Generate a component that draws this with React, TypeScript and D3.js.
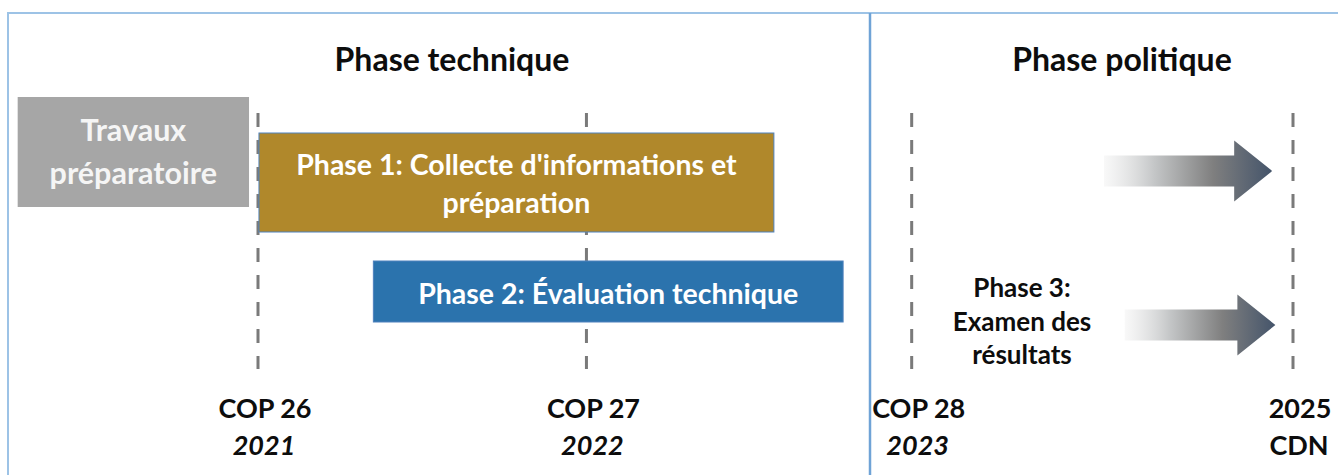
import React from "react";
import * as d3 from "d3";

// ---- Data ----
const milestoneLabels = ["COP 26", "COP 27", "COP 28", "2025"];
const milestoneSubLabels = ["2021", "2022", "2023", "CDN"];
const milestoneSubItalic = [true, true, true, false];
const milestoneTimes = [2021.85, 2022.875, 2023.89, 2025.08];

const phaseTitles = ["Phase technique", "Phase politique"];

const boxNames = ["prep", "phase1", "phase2"];
const boxStarts = [2021.1, 2021.853, 2022.21];
const boxEnds = [2021.822, 2023.46, 2023.676];
const boxLines = [
  ["Travaux", "préparatoire"],
  ["Phase 1: Collecte d'informations et", "préparation"],
  ["Phase 2: Évaluation technique"],
];
const boxColors = ["#a6a6a6", "#b0882b", "#2b73ad"];

const arrowStarts = [2024.49, 2024.555];
const arrowEnds = [2025.015, 2025.025];

const phase3Lines = ["Phase 3:", "Examen des", "résultats"];

// ---- Layout ----
const W = 1338;
const H = 475;
const FONT = "Lato, 'Open Sans', sans-serif";

const x = d3.scaleLinear().domain([2021.85, 2025.08]).range([258, 1293]);

const boxTop = [97, 133, 261];
const boxBottom = [207, 232, 322];
const boxFont = [30.5, 28.5, 28.5];
const boxBaselines = [[141, 184], [175, 213], [304]];

const arrowCy = [171, 325];
const shaftHalf = 15.5;
const headHalf = 30.5;
const headLen = 38;

export default function App() {
  const arrowPath = (i: number) => {
    const x0 = x(arrowStarts[i]);
    const x1 = x(arrowEnds[i]);
    const cy = arrowCy[i];
    const p = d3.path();
    p.moveTo(x0, cy - shaftHalf);
    p.lineTo(x1 - headLen, cy - shaftHalf);
    p.lineTo(x1 - headLen, cy - headHalf);
    p.lineTo(x1, cy);
    p.lineTo(x1 - headLen, cy + headHalf);
    p.lineTo(x1 - headLen, cy + shaftHalf);
    p.lineTo(x0, cy + shaftHalf);
    p.closePath();
    return p.toString();
  };

  const divider = 870;

  return (
    <svg
      width={W}
      height={H}
      viewBox={`0 0 ${W} ${H}`}
      style={{ position: "absolute", left: 0, top: 0, background: "#fff" }}
      fontFamily={FONT}
    >
      <defs>
        {arrowStarts.map((_, i) => (
          <linearGradient
            key={i}
            id={`ag${i}`}
            gradientUnits="userSpaceOnUse"
            x1={x(arrowStarts[i])}
            x2={x(arrowEnds[i])}
            y1={0}
            y2={0}
          >
            <stop offset="0" stopColor="#f4f4f4" stopOpacity={0.6} />
            <stop offset="0.3" stopColor="#c4c6c7" />
            <stop offset="0.65" stopColor="#7f7f7f" />
            <stop offset="1" stopColor="#44546a" />
          </linearGradient>
        ))}
      </defs>

      {/* frame */}
      <path d={`M8,${H} V13 H${W}`} fill="none" stroke="#9dc3e6" strokeWidth={2} />
      <line x1={divider} x2={divider} y1={13} y2={H} stroke="#6fa3d6" strokeWidth={2.5} />

      {/* phase titles */}
      <text x={452} y={71} textAnchor="middle" fontSize={32} fontWeight={700} fill="#0d0d0d">
        {phaseTitles[0]}
      </text>
      <text x={1122} y={71} textAnchor="middle" fontSize={32} fontWeight={700} fill="#0d0d0d">
        {phaseTitles[1]}
      </text>

      {/* dashed milestone lines */}
      {milestoneTimes.map((t, i) => (
        <line
          key={i}
          x1={x(t)}
          x2={x(t)}
          y1={113}
          y2={369}
          stroke="#7a7a7a"
          strokeWidth={3}
          strokeDasharray="14 13"
        />
      ))}

      {/* boxes */}
      {boxNames.map((n, i) => {
        const bx0 = x(boxStarts[i]);
        const bx1 = x(boxEnds[i]);
        const cx = (bx0 + bx1) / 2;
        return (
          <g key={n}>
            <rect
              x={bx0}
              y={boxTop[i]}
              width={bx1 - bx0}
              height={boxBottom[i] - boxTop[i]}
              fill={boxColors[i]}
              stroke={i === 0 ? "none" : "#4f81bd"}
              strokeWidth={1}
            />
            {boxLines[i].map((ln, j) => (
              <text
                key={j}
                x={cx}
                y={boxBaselines[i][j]}
                textAnchor="middle"
                fontSize={boxFont[i]}
                fontWeight={700}
                fill={i === 0 ? "#f5f5f5" : "#ffffff"}
              >
                {ln}
              </text>
            ))}
          </g>
        );
      })}

      {/* arrows */}
      {arrowStarts.map((_, i) => (
        <path key={i} d={arrowPath(i)} fill={`url(#ag${i})`} />
      ))}

      {/* phase 3 text */}
      {phase3Lines.map((ln, j) => (
        <text
          key={j}
          x={1022}
          y={297 + j * 33.5}
          textAnchor="middle"
          fontSize={26}
          fontWeight={700}
          fill="#0d0d0d"
        >
          {ln}
        </text>
      ))}

      {/* milestone labels */}
      {milestoneTimes.map((t, i) => (
        <g key={i}>
          <text
            x={x(t) + 7}
            y={418}
            textAnchor="middle"
            fontSize={27}
            fontWeight={700}
            fill="#0d0d0d"
          >
            {milestoneLabels[i]}
          </text>
          <text
            x={x(t) + 6}
            y={455}
            textAnchor="middle"
            fontSize={27}
            fontWeight={700}
            fontStyle={milestoneSubItalic[i] ? "italic" : "normal"}
            fill="#0d0d0d"
          >
            {milestoneSubLabels[i]}
          </text>
        </g>
      ))}
    </svg>
  );
}
